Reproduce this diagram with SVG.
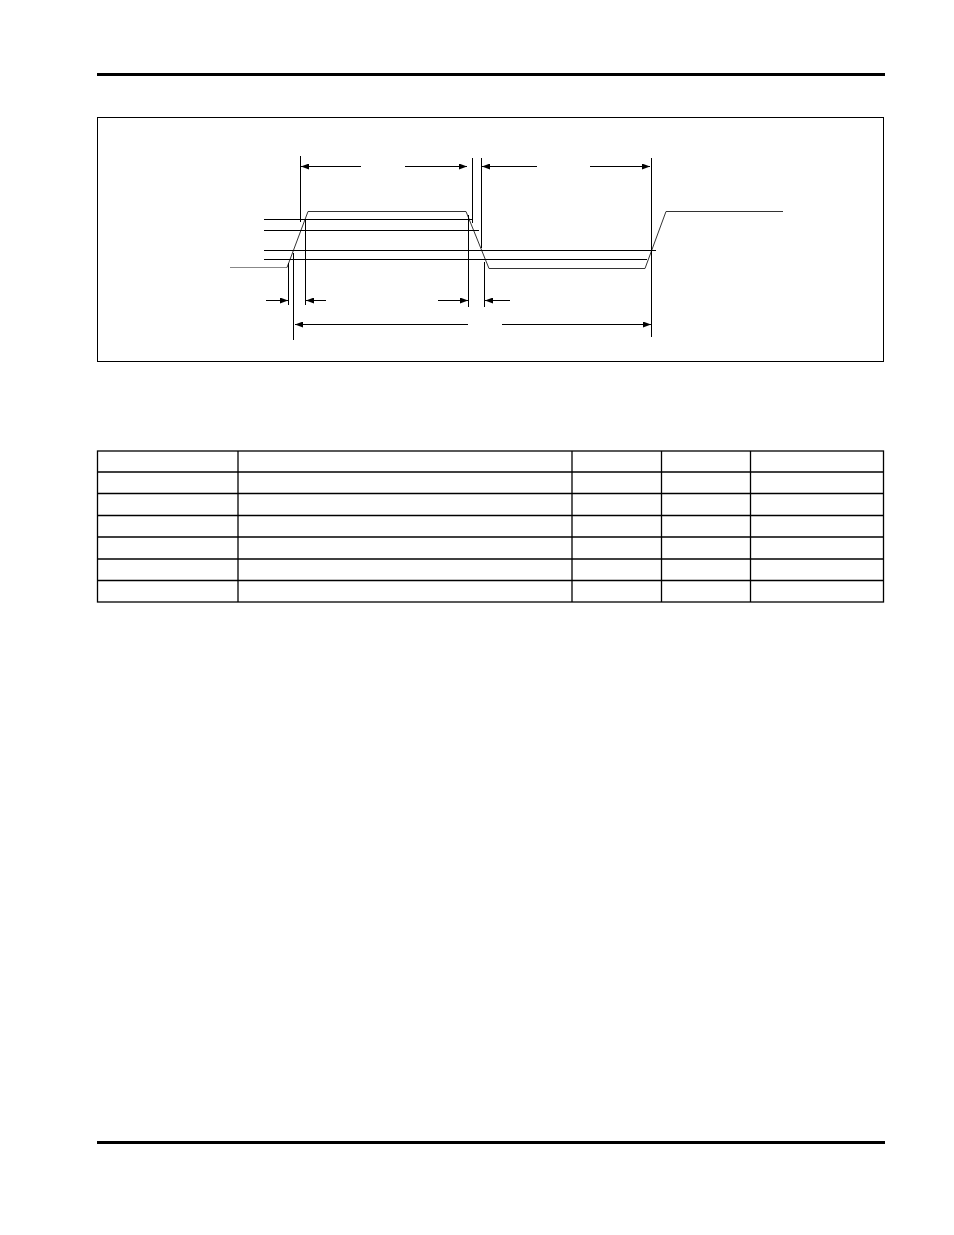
<svg xmlns="http://www.w3.org/2000/svg" width="954" height="1235" viewBox="0 0 954 1235">
<style>
.ln{stroke:#000;stroke-width:1;fill:none}
.wv{stroke:#333;stroke-width:1;fill:none}
.tb{stroke:#000;stroke-width:1.3;fill:none}
.rule{stroke:#000;stroke-width:3}
</style>
<defs>
<marker id="ah" viewBox="0 0 8 6" refX="8" refY="3" markerWidth="8" markerHeight="6" markerUnits="userSpaceOnUse" orient="auto">
<path d="M0,0 L8,3 L0,6 Z" fill="#000"/>
</marker>
</defs>
<rect width="954" height="1235" fill="#fff"/>
<g id="rules">
<line class="rule" x1="97" y1="74.5" x2="885" y2="74.5"/>
<line class="rule" x1="97" y1="1142.5" x2="885" y2="1142.5"/>
</g>
<g id="frame">
<rect x="97.5" y="117.5" width="786" height="244" fill="none" stroke="#000" stroke-width="1"/>
</g>
<g id="waveform">
<polyline points="230,267.5 287,267.5" fill="none" stroke="#888" stroke-width="1"/>
<polyline class="wv" points="287,267.5 308,211.5 466,211.5 489,268.5 645,268.5 666,211.5 783,211.5"/>
</g>
<g id="levels">
<line class="ln" x1="264" y1="219.5" x2="472" y2="219.5"/>
<line class="ln" x1="264" y1="230.5" x2="479" y2="230.5"/>
<line class="ln" x1="264" y1="250.5" x2="656" y2="250.5"/>
<line class="ln" x1="264" y1="259.5" x2="647" y2="259.5"/>
</g>
<g id="extension-lines">
<line class="ln" x1="300.5" y1="156" x2="300.5" y2="222"/>
<line class="ln" x1="472.5" y1="158" x2="472.5" y2="223"/>
<line class="ln" x1="481.5" y1="158" x2="481.5" y2="248"/>
<line class="ln" x1="651.5" y1="158" x2="651.5" y2="337" stroke="#666"/>
<line class="ln" x1="288.5" y1="263" x2="288.5" y2="305"/>
<line class="ln" x1="293.5" y1="253" x2="293.5" y2="340"/>
<line class="ln" x1="305.5" y1="219" x2="305.5" y2="305"/>
<line class="ln" x1="468.5" y1="215" x2="468.5" y2="307"/>
<line class="ln" x1="484.5" y1="262" x2="484.5" y2="307"/>
</g>
<g id="connectors">
<line class="ln" x1="361" y1="166.5" x2="301" y2="166.5" marker-end="url(#ah)"/>
<line class="ln" x1="405" y1="166.5" x2="467" y2="166.5" marker-end="url(#ah)"/>
<line class="ln" x1="537" y1="166.5" x2="482" y2="166.5" marker-end="url(#ah)"/>
<line class="ln" x1="590" y1="166.5" x2="650" y2="166.5" marker-end="url(#ah)"/>
<line class="ln" x1="266" y1="300.5" x2="288" y2="300.5" marker-end="url(#ah)"/>
<line class="ln" x1="326" y1="300.5" x2="306" y2="300.5" marker-end="url(#ah)"/>
<line class="ln" x1="438" y1="300.5" x2="468" y2="300.5" marker-end="url(#ah)"/>
<line class="ln" x1="510" y1="300.5" x2="485" y2="300.5" marker-end="url(#ah)"/>
<line class="ln" x1="468" y1="324.5" x2="295" y2="324.5" marker-end="url(#ah)"/>
<line class="ln" x1="502" y1="324.5" x2="651" y2="324.5" marker-end="url(#ah)"/>
</g>
<g id="table">
<rect class="tb" x="97.5" y="451" width="786" height="151"/>
<line class="tb" x1="97.5" y1="472" x2="883.5" y2="472"/>
<line class="tb" x1="97.5" y1="493.5" x2="883.5" y2="493.5"/>
<line class="tb" x1="97.5" y1="515.5" x2="883.5" y2="515.5"/>
<line class="tb" x1="97.5" y1="537" x2="883.5" y2="537"/>
<line class="tb" x1="97.5" y1="559" x2="883.5" y2="559"/>
<line class="tb" x1="97.5" y1="580.5" x2="883.5" y2="580.5"/>
<line class="tb" x1="238" y1="451" x2="238" y2="602"/>
<line class="tb" x1="572" y1="451" x2="572" y2="602"/>
<line class="tb" x1="661.5" y1="451" x2="661.5" y2="602"/>
<line class="tb" x1="750.5" y1="451" x2="750.5" y2="602"/>
</g>
</svg>
